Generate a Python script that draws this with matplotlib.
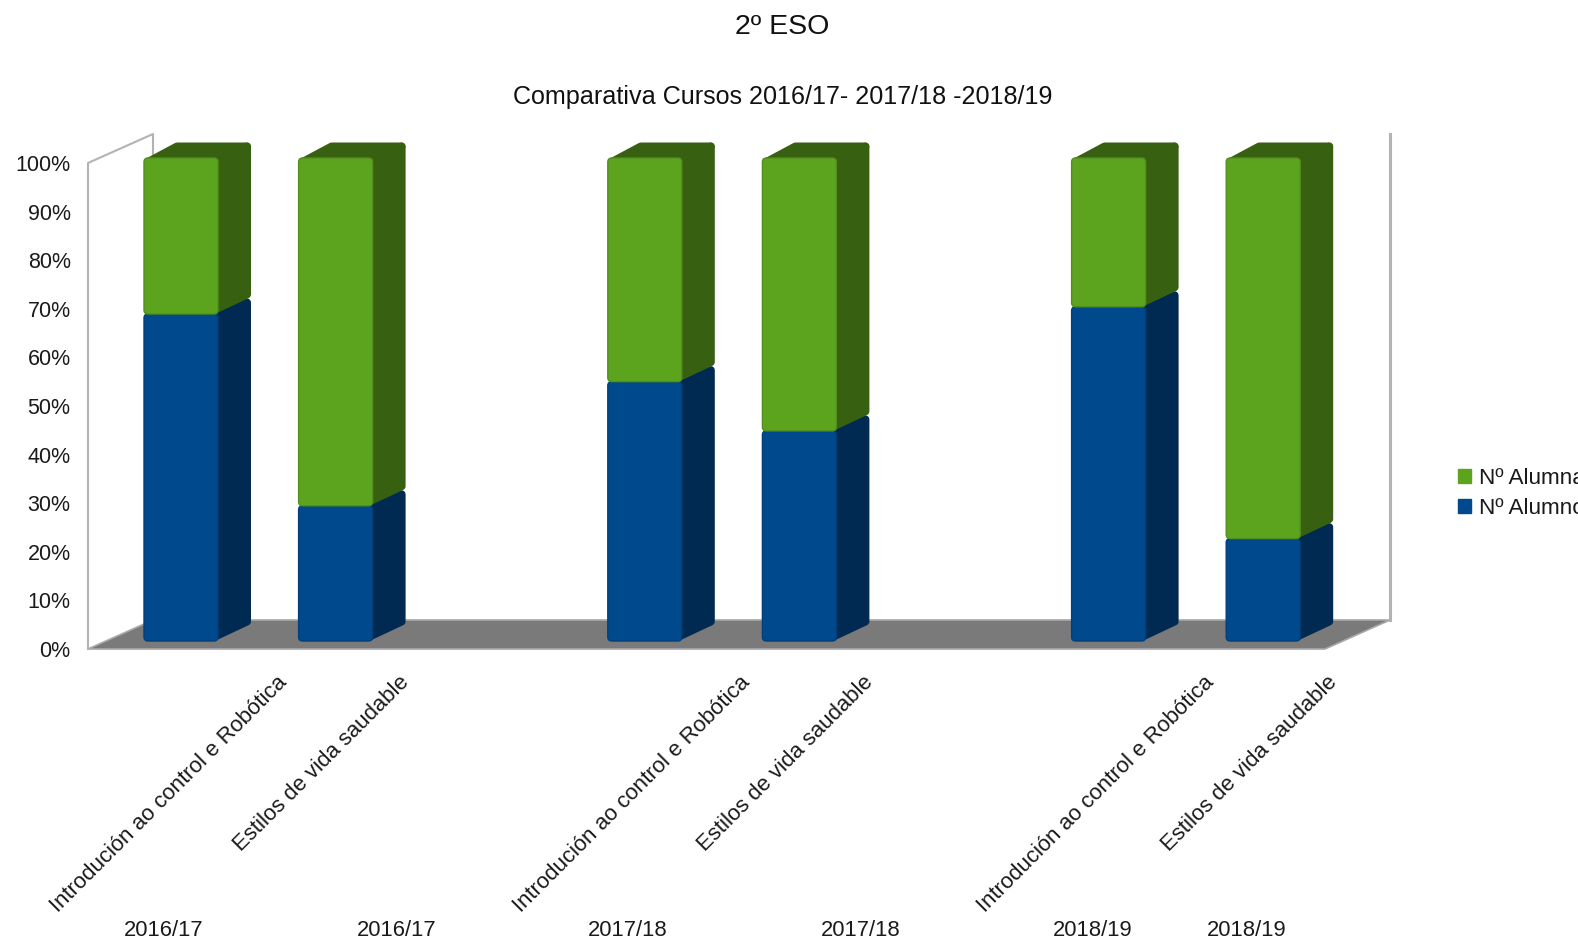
import matplotlib
matplotlib.use('Agg')
import matplotlib.pyplot as plt
from matplotlib.patches import FancyBboxPatch, Polygon, Patch

plt.rcParams['font.family'] = ['Liberation Sans', 'DejaVu Sans']

# data
positions = [0, 1, 3, 4, 6, 7]
subjects = ["Introdución ao control e Robótica", "Estilos de vida saudable"] * 3
years = ["2016/17", "2016/17", "2017/18", "2017/18", "2018/19", "2018/19"]
alumnos = [67.7, 28.0, 53.7, 43.5, 69.2, 21.2]
alumnas = [32.3, 72.0, 46.3, 56.5, 30.8, 78.8]
ticks = list(range(0, 101, 10))
tick_labels = ["%d%%" % t for t in ticks]

# layout, all in pixels of the 1578x939 figure
W, H = 1578, 939
FRONT_L, FRONT_R = 88, 1325
FRAME_TOP, FRAME_BOT = 163, 649
BAR_TOP, BAR_BOT = 158, 641
UNIT = 154.6
FIRST_CENTER = 181
BAR_W = 74 / UNIT
label_dx = [95, 63, 95, 63, 95, 63]
year_x = [164, 397, 628, 861, 1093, 1247]

GREEN, GREEN_D, GREEN_E = '#5ca41e', '#376110', '#528f1e'
BLUE, BLUE_D, BLUE_E = '#00498c', '#002a52', '#003f7a'
GRID = '#b3b3b3'
TEXT = '#1a1a1a'

fig = plt.figure(figsize=(W / 100, H / 100), dpi=100)


def make_axes(top, bot):
    ax = fig.add_axes([FRONT_L / W, 1 - bot / H, (FRONT_R - FRONT_L) / W, (bot - top) / H])
    ax.set_xlim((FRONT_L - FIRST_CENTER) / UNIT, (FRONT_R - FIRST_CENTER) / UNIT)
    ax.set_ylim(0, 100)
    ax.patch.set_visible(False)
    for s in ax.spines.values():
        s.set_visible(False)
    return ax


frame_ax = make_axes(FRAME_TOP, FRAME_BOT)
bar_ax = make_axes(BAR_TOP, BAR_BOT)
bar_ax.set_xticks([])
bar_ax.set_yticks([])

# floor and walls
x0, x1 = frame_ax.get_xlim()
wall_dx = 65 / UNIT
wall_dy = 29 / ((FRAME_BOT - FRAME_TOP) / 100)
frame_ax.add_patch(Polygon([(x0, 0), (x0 + wall_dx, wall_dy), (x1 + wall_dx, wall_dy), (x1, 0)],
                           closed=True, fc='#7a7a7a', ec='#a8a8a8', lw=1.2, clip_on=False))
frame_ax.plot([x0, x0, x0 + wall_dx, x0 + wall_dx], [0, 100, 100 + wall_dy, wall_dy],
              color=GRID, lw=1.5, clip_on=False)
frame_ax.plot([x1 + wall_dx, x1 + wall_dx], [wall_dy, 100 + wall_dy], color=GRID, lw=2.2, clip_on=False)

frame_ax.set_xticks([])
frame_ax.set_yticks(ticks)
frame_ax.set_yticklabels(tick_labels, fontsize=15.5, color=TEXT)
frame_ax.tick_params(axis='y', length=0, pad=12.5)

# bars with their side and top faces
px_y = (BAR_BOT - BAR_TOP) / 100
dx = 33 / UNIT
dy = 15.5 / px_y
aspect = UNIT / px_y
pad = 4 / UNIT
# side faces are inset, then a thick round stroke gives them soft corners
inset_x = 4 / UNIT
inset_y = 4 / px_y
stroke = 4 * 2 * 0.72


def draw_block(x, start, height, face, side, edge, top=False):
    l, r = x - BAR_W / 2, x + BAR_W / 2
    b, t = start, start + height
    sb, st = b + inset_y, t - inset_y
    bar_ax.add_patch(Polygon([(r - inset_x, sb), (r + dx - inset_x, sb + dy), (r + dx - inset_x, st + dy), (r - inset_x, st)],
                             closed=True, fc=side, ec=side, lw=stroke, joinstyle='round', clip_on=False, zorder=2))
    if top:
        bar_ax.add_patch(Polygon([(l + inset_x, st), (l + dx, st + dy), (r + dx - inset_x, st + dy), (r, st)],
                                 closed=True, fc=side, ec=side, lw=stroke, joinstyle='round', clip_on=False, zorder=2))
    bar_ax.add_patch(FancyBboxPatch((l + pad, b + pad * aspect), BAR_W - 2 * pad, t - b - 2 * pad * aspect,
                                    boxstyle='round,pad=%f,rounding_size=%f' % (pad, pad),
                                    mutation_aspect=aspect, fc=face, ec=edge, lw=1.0, clip_on=False, zorder=3))


for x, boys, girls in zip(positions, alumnos, alumnas):
    draw_block(x, 0, boys, BLUE, BLUE_D, BLUE_E)
    draw_block(x, boys, girls, GREEN, GREEN_D, GREEN_E, top=True)

# rotated subject labels and year labels below
for x, name, off in zip(positions, subjects, label_dx):
    frame_ax.annotate(name, xy=(x, 0), xycoords='data',
                      xytext=(off * 0.72, -23 * 0.72), textcoords='offset points',
                      rotation=45, rotation_mode='anchor', ha='right', va='top',
                      fontsize=15.9, color=TEXT, annotation_clip=False)

for px, y in zip(year_x, years):
    fig.text(px / W, 1 - 931 / H, y, ha='center', va='center', fontsize=15.8, color=TEXT)

# titles
fig.text(782 / W, 1 - 27 / H, "2º ESO", ha='center', va='center', fontsize=20.5, color='#111111')
fig.text(783 / W, 1 - 97 / H, "Comparativa Cursos 2016/17- 2017/18 -2018/19", ha='center', va='center',
         fontsize=18.1, color='#111111')

# legend runs off the right edge, same as the original
handles = [Patch(fc=GREEN, ec=GREEN, label="Nº Alumnas"), Patch(fc=BLUE, ec=BLUE, label="Nº Alumnos")]
fig.legend(handles=handles, loc='upper left', bbox_to_anchor=(1451 / W, 1 - 461 / H),
           frameon=False, fontsize=16.2, handlelength=0.6, handleheight=0.6,
           handletextpad=0.36, labelspacing=0.4, borderpad=0.3, borderaxespad=0, labelcolor=TEXT)

fig.savefig('out.png', dpi=100)
